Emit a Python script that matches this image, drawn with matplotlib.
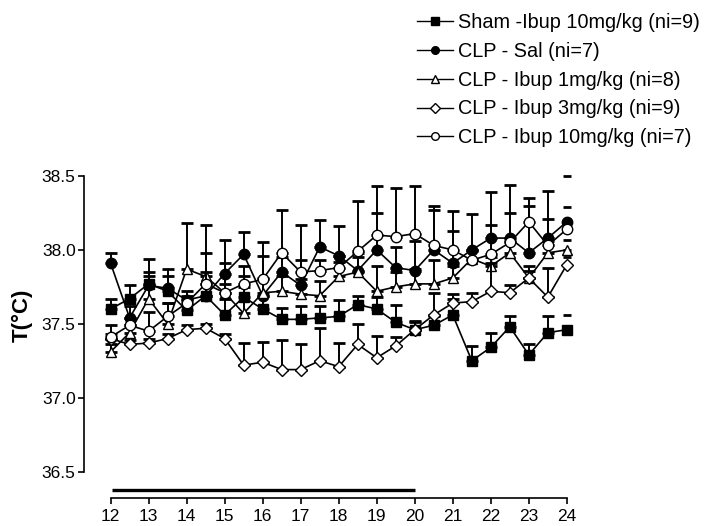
import matplotlib
matplotlib.use("Agg")
import matplotlib.pyplot as plt
from matplotlib.lines import Line2D
import numpy as np

plt.rcParams['font.family'] = ['Liberation Sans', 'DejaVu Sans']

hours = [12, 12.5, 13, 13.5, 14, 14.5, 15, 15.5, 16, 16.5, 17, 17.5, 18, 18.5,
         19, 19.5, 20, 20.5, 21, 21.5, 22, 22.5, 23, 23.5, 24]
x_ticks = list(range(12, 25))
y_ticks = [36.5, 37.0, 37.5, 38.0, 38.5]

labels = ["Sham -Ibup 10mg/kg (ni=9)", "CLP - Sal (ni=7)", "CLP - Ibup 1mg/kg (ni=8)",
          "CLP - Ibup 3mg/kg (ni=9)", "CLP - Ibup 10mg/kg (ni=7)"]

sham = [37.60, 37.67, 37.77, 37.72, 37.59, 37.69, 37.56, 37.68, 37.60, 37.53, 37.53, 37.54, 37.55,
        37.63, 37.60, 37.51, 37.46, 37.49, 37.56, 37.25, 37.34, 37.48, 37.29, 37.44, 37.46]
sham_err = [0.07, 0.09, 0.08, 0.10, 0.08, 0.08, 0.11, 0.07, 0.09, 0.08, 0.09, 0.08, 0.11,
            0.06, 0.08, 0.12, 0.06, 0.06, 0.11, 0.10, 0.10, 0.07, 0.07, 0.11, 0.10]

sal = [37.91, 37.54, 37.76, 37.74, 37.66, 37.69, 37.84, 37.97, 37.69, 37.85, 37.76, 38.02, 37.96,
       37.86, 38.00, 37.88, 37.86, 38.00, 37.91, 38.00, 38.08, 38.08, 37.98, 38.08, 38.19]
sal_err = [0.07, 0.08, 0.18, 0.13, 0.06, 0.16, 0.23, 0.15, 0.27, 0.10, 0.17, 0.18, 0.20,
           0.12, 0.25, 0.14, 0.20, 0.27, 0.22, 0.24, 0.31, 0.36, 0.32, 0.32, 0.31]

ibup1 = [37.31, 37.44, 37.67, 37.50, 37.87, 37.82, 37.71, 37.57, 37.71, 37.72, 37.70, 37.69, 37.82,
         37.85, 37.72, 37.75, 37.77, 37.77, 37.81, 37.94, 37.89, 37.98, 37.81, 37.98, 38.00]
ibup1_err = [0.05, 0.05, 0.15, 0.14, 0.31, 0.35, 0.20, 0.25, 0.10, 0.10, 0.10, 0.10, 0.10,
             0.10, 0.17, 0.10, 0.10, 0.16, 0.08, 0.06, 0.06, 0.08, 0.08, 0.08, 0.07]

ibup3 = [37.40, 37.36, 37.37, 37.40, 37.46, 37.47, 37.40, 37.22, 37.24, 37.19, 37.19, 37.25, 37.21,
         37.36, 37.27, 37.35, 37.46, 37.56, 37.64, 37.65, 37.72, 37.71, 37.81, 37.68, 37.90]
ibup3_err = [0.03, 0.03, 0.03, 0.03, 0.03, 0.03, 0.03, 0.15, 0.14, 0.20, 0.17, 0.22, 0.16,
             0.14, 0.15, 0.06, 0.05, 0.15, 0.06, 0.06, 0.19, 0.05, 0.05, 0.20, 0.05]

ibup10 = [37.41, 37.49, 37.45, 37.55, 37.64, 37.77, 37.71, 37.77, 37.80, 37.98, 37.85, 37.86, 37.88,
          37.99, 38.10, 38.09, 38.11, 38.03, 38.00, 37.93, 37.97, 38.05, 38.19, 38.03, 38.14]
ibup10_err = [0.08, 0.05, 0.13, 0.09, 0.05, 0.21, 0.06, 0.12, 0.25, 0.29, 0.32, 0.07, 0.08,
              0.34, 0.33, 0.33, 0.32, 0.27, 0.26, 0.06, 0.20, 0.20, 0.16, 0.18, 0.15]

treatment_start, treatment_end = 12, 20

series = [(sham, sham_err, 's', 'black'),
          (sal, sal_err, 'o', 'black'),
          (ibup1, ibup1_err, '^', 'white'),
          (ibup3, ibup3_err, 'D', 'white'),
          (ibup10, ibup10_err, 'o', 'white')]
msizes = {'s': 7.5, 'o': 7.5, '^': 7.5, 'D': 6.0}

fig = plt.figure(figsize=(7.05, 5.26), dpi=100)
ax = fig.add_axes([0.1191, 0.0532, 0.7011, 0.6403])

x = np.array(hours)
for i, (vals, err, mk, fc) in enumerate(series):
    v = np.array(vals)
    e = np.array(err)
    z = 3 + i
    ax.errorbar(x[:-1], v[:-1], yerr=[np.zeros(len(e) - 1), e[:-1]], fmt='none',
                ecolor='black', elinewidth=1.4, capsize=4, capthick=2.0, zorder=z)
    ax.errorbar(x[-1:], v[-1:], yerr=[[0], e[-1:]], fmt='none',
                ecolor='black', elinewidth=0, capsize=3, capthick=2.0, zorder=z)
    ax.plot(x, v, color='black', lw=1.2, marker=mk, ms=msizes[mk], mfc=fc,
            mec='black', mew=1.0, zorder=z + 0.5)

ax.plot([treatment_start + 0.05, treatment_end], [36.373, 36.373], color='black', lw=2.4,
        solid_capstyle='butt', clip_on=False)

ax.set_xlim(11.3, 24.3)
ax.set_ylim(36.321, 38.6)
ax.spines['top'].set_visible(False)
ax.spines['right'].set_visible(False)
ax.spines['left'].set_bounds(36.5, 38.5)
ax.spines['bottom'].set_bounds(12, 24)
for s in ['left', 'bottom']:
    ax.spines[s].set_linewidth(1.2)
ax.set_xticks(x_ticks)
ax.set_xticklabels([str(t) for t in x_ticks])
ax.set_yticks(y_ticks)
ax.set_yticklabels([f"{t:.1f}" for t in y_ticks])
ax.tick_params(axis='both', direction='out', length=4.5, width=1.2, labelsize=12.5, color='black')
ax.tick_params(axis='x', pad=3.5)
ax.tick_params(axis='y', pad=1.5)
ax.set_ylabel("T(°C)", fontsize=16, fontweight='bold')
ax.yaxis.set_label_coords(-0.103, 0.543)

handles = []
for (vals, err, mk, fc), lab in zip(series, labels):
    handles.append(Line2D([0], [0], color='black', lw=1.0, marker=mk,
                          ms=5.5 if mk != 'D' else 5, mfc=fc, mec='black', mew=1.0))
fig.legend(handles, labels, loc='upper left', bbox_to_anchor=(0.580, 0.991), frameon=False,
           fontsize=14.3, handlelength=1.81, handletextpad=0.25, labelspacing=0.50,
           borderaxespad=0.0, borderpad=0.4)

fig.savefig("out.png", dpi=100)
